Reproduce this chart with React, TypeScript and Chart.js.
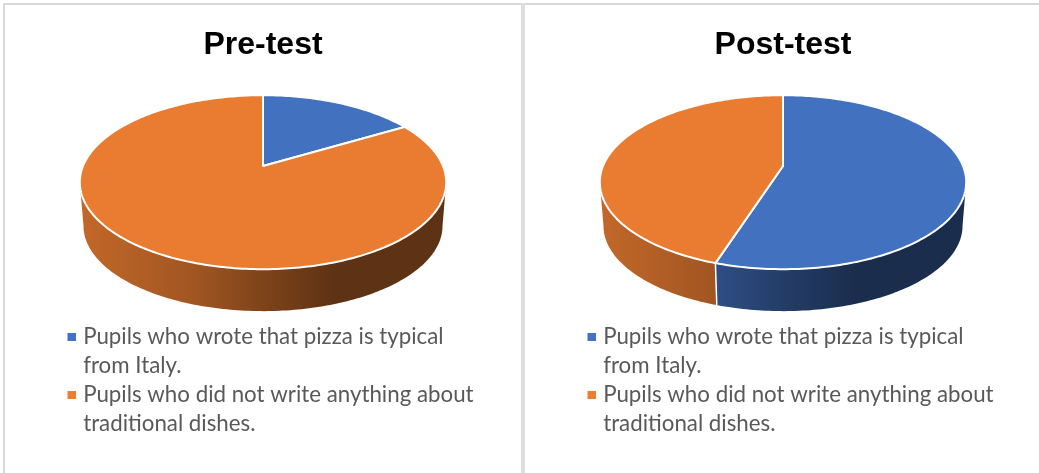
import React, { useEffect, useRef } from "react";
import { Chart, registerables } from "chart.js";

Chart.register(...registerables);

const preTestTitle = "Pre-test";
const postTestTitle = "Post-test";
const groupLines = [
  ["Pupils who wrote that pizza is typical", "from Italy."],
  ["Pupils who did not write anything about", "traditional dishes."],
];
const preTestValues = [16.5, 83.5];
const postTestValues = [55, 45];
const sliceColors = ["#4271C0", "#EA7C31"];
const swatchColors = ["#4472C4", "#ED7D31"];
const legendColor = "#595959";

// Perspective of the tilted disc: horizontal and vertical radius factors, and convergence.
const RX = 180;
const RY = 84;
const CONVERGE = 0.186;
const APEX_Y = 166;
const FLOOR_APEX_Y = 210;
const FLOOR_SCALE = 0.98;
const STEP = Math.PI / 180;
// Angle at which the projected rim is widest, where the wall's outline begins.
const SILHOUETTE = Math.asin(CONVERGE);

const project = (angle: number, cx: number, apexY: number, scale: number) => {
  const depth = 1 - CONVERGE * Math.sin(angle);
  return {
    x: cx + (RX * scale * Math.cos(angle)) / depth,
    y: apexY + (RY * scale * Math.sin(angle)) / depth,
  };
};

const sweep = (from: number, to: number) => {
  const angles: number[] = [];
  for (let a = from; a < to; a += STEP) angles.push(a);
  angles.push(to);
  return angles;
};

const shade = (hex: string, k: number) => {
  const n = parseInt(hex.slice(1), 16);
  const r = Math.round(((n >> 16) & 255) * k);
  const g = Math.round(((n >> 8) & 255) * k);
  const b = Math.round((n & 255) * k);
  return `rgb(${r},${g},${b})`;
};

// Legend marker: the square fills the right part so it lines up with the text gap.
const swatch = (color: string) => {
  const c = document.createElement("canvas");
  c.width = 12;
  c.height = 8;
  const g = c.getContext("2d")!;
  g.fillStyle = color;
  g.fillRect(4, 0, 8, 8);
  return c;
};

// Draws the library's computed arcs as a tilted disc with a shaded wall.
const tiltedPie = {
  id: "tiltedPie",
  afterLayout(chart: any) {
    // The legend sits under the disc, wider than the plot area.
    const legend = chart.legend;
    legend.left = 67;
    legend.right = chart.width;
    legend.top = 326;
    legend.bottom = chart.height;
    legend.width = legend.right - legend.left;
    legend.height = legend.bottom - legend.top;
  },
  beforeDatasetsDraw(chart: any) {
    const ctx: CanvasRenderingContext2D = chart.ctx;
    const arcs = chart.getDatasetMeta(0).data;
    ctx.save();
    ctx.lineJoin = "round";

    arcs.forEach((arc: any) => {
      const from = Math.max(arc.startAngle, SILHOUETTE);
      const to = Math.min(arc.endAngle, Math.PI - SILHOUETTE);
      if (to <= from) return;
      const cx = arc.x;
      const angles = sweep(from, to);
      const grad = ctx.createLinearGradient(cx - RX, 0, cx + RX, 0);
      const base = arc.options.backgroundColor;
      grad.addColorStop(0, shade(base, 0.83));
      grad.addColorStop(0.31, shade(base, 0.69));
      grad.addColorStop(0.5, shade(base, 0.54));
      grad.addColorStop(0.7, shade(base, 0.4));
      grad.addColorStop(1, shade(base, 0.4));
      ctx.beginPath();
      angles.forEach((a, i) => {
        const p = project(a, cx, APEX_Y, 1);
        if (i === 0) ctx.moveTo(p.x, p.y);
        else ctx.lineTo(p.x, p.y);
      });
      [...angles].reverse().forEach((a) => {
        const p = project(a, cx, FLOOR_APEX_Y, FLOOR_SCALE);
        ctx.lineTo(p.x, p.y);
      });
      ctx.closePath();
      ctx.fillStyle = grad;
      ctx.fill();
    });

    // White seam where two slices meet on the wall.
    arcs.forEach((arc: any) => {
      const seam = arc.endAngle;
      if (seam <= SILHOUETTE || seam >= Math.PI - SILHOUETTE) return;
      const a = project(seam, arc.x, APEX_Y, 1);
      const b = project(seam, arc.x, FLOOR_APEX_Y, FLOOR_SCALE);
      ctx.beginPath();
      ctx.moveTo(a.x, a.y);
      ctx.lineTo(b.x, b.y);
      ctx.strokeStyle = "#FFFFFF";
      ctx.lineWidth = 1.5;
      ctx.stroke();
    });

    arcs.forEach((arc: any) => {
      const cx = arc.x;
      ctx.beginPath();
      ctx.moveTo(cx, APEX_Y);
      sweep(arc.startAngle, arc.endAngle).forEach((a) => {
        const p = project(a, cx, APEX_Y, 1);
        ctx.lineTo(p.x, p.y);
      });
      ctx.closePath();
      ctx.fillStyle = arc.options.backgroundColor;
      ctx.fill();
      ctx.strokeStyle = arc.options.borderColor;
      ctx.lineWidth = arc.options.borderWidth;
      ctx.stroke();
    });

    ctx.restore();
    return false;
  },
};

const buildPie = (canvas: HTMLCanvasElement, title: string, values: number[]) =>
  new Chart(canvas, {
    type: "pie",
    data: {
      labels: groupLines.map((lines) => lines.join(" ")),
      datasets: [
        {
          data: values,
          backgroundColor: sliceColors,
          borderColor: "#FFFFFF",
          borderWidth: 2,
        },
      ],
    },
    options: {
      responsive: false,
      animation: false,
      devicePixelRatio: 1,
      layout: { padding: { left: 67, right: 67, top: 0, bottom: 34 } },
      plugins: {
        tooltip: { enabled: false },
        title: {
          display: true,
          text: title,
          color: "#000000",
          font: { family: "'Liberation Sans'", size: 32, weight: "bold" },
          padding: { top: 26, bottom: 10 },
        },
        legend: {
          display: true,
          position: "chartArea",
          align: "start",
          labels: {
            usePointStyle: true,
            pointStyleWidth: 5,
            boxHeight: 8,
            padding: 0,
            color: legendColor,
            font: { family: "Lato", size: 22.3, lineHeight: 29 / 22.3 },
            generateLabels: () =>
              groupLines.map((lines, i) => ({
                text: lines,
                fillStyle: swatchColors[i],
                strokeStyle: swatchColors[i],
                pointStyle: swatch(swatchColors[i]),
                lineWidth: 0,
                hidden: false,
                index: i,
                fontColor: legendColor,
              })),
          },
        },
      },
    },
    plugins: [tiltedPie],
  } as any);

export default function App() {
  const leftRef = useRef<HTMLCanvasElement>(null);
  const rightRef = useRef<HTMLCanvasElement>(null);

  useEffect(() => {
    const left = buildPie(leftRef.current!, preTestTitle, preTestValues);
    const right = buildPie(rightRef.current!, postTestTitle, postTestValues);
    return () => {
      left.destroy();
      right.destroy();
    };
  }, []);

  return (
    <div
      style={{
        position: "fixed",
        left: 0,
        top: 0,
        width: 1039,
        height: 473,
        overflow: "hidden",
        background: "#FFFFFF",
      }}
    >
      <div style={{ position: "absolute", left: 3, top: 3, width: 1036, height: 2, background: "#D9D9D9" }} />
      <div style={{ position: "absolute", left: 3, top: 3, width: 2, height: 470, background: "#D9D9D9" }} />
      <div style={{ position: "absolute", left: 521, top: 3, width: 4, height: 470, background: "#DEDEDE" }} />
      <canvas ref={leftRef} width={526} height={473} style={{ position: "absolute", left: 0, top: 0 }} />
      <canvas ref={rightRef} width={526} height={473} style={{ position: "absolute", left: 520, top: 0 }} />
    </div>
  );
}
